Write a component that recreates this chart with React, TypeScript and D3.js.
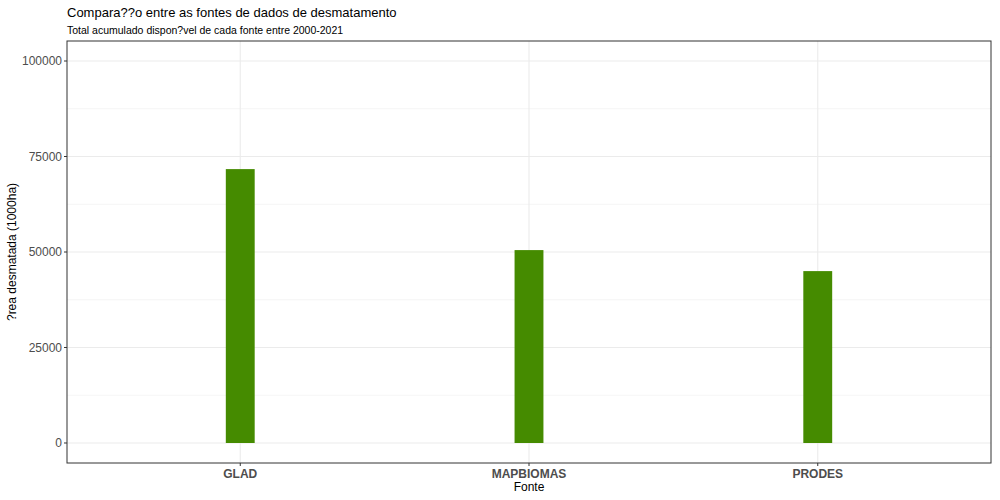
import React from "react";
import * as d3 from "d3";

const categories = ["GLAD", "MAPBIOMAS", "PRODES"];
const values = [71700, 50500, 45000];
const yTicks = [0, 25000, 50000, 75000, 100000];
const yMinor = [12500, 37500, 62500, 87500];

export default function App() {
  const W = 1000, H = 500;
  const L = 67, R = 991, T = 41, B = 463;
  const y = d3.scaleLinear().domain([-5236, 105236]).range([B, T]);
  const x = d3.scaleLinear().domain([0.4, 3.6]).range([L, R]);
  const bw = x(1.1) - x(1);
  const font = "Arial, 'Liberation Sans', sans-serif";
  return (
    <svg width={W} height={H} style={{ position: "absolute", left: 0, top: 0 }} fontFamily={font}>
      <rect width={W} height={H} fill="#fff" />
      {yMinor.map(v => <line key={"m" + v} x1={L} x2={R} y1={y(v)} y2={y(v)} stroke="#f2f2f2" strokeWidth={0.8} />)}
      {yTicks.map(v => <line key={"g" + v} x1={L} x2={R} y1={y(v)} y2={y(v)} stroke="#ebebeb" strokeWidth={1.1} />)}
      {categories.map((c, i) => <line key={"v" + c} x1={x(i + 1)} x2={x(i + 1)} y1={T} y2={B} stroke="#ebebeb" strokeWidth={1.1} />)}
      {categories.map((c, i) => (
        <rect key={c} x={x(i + 1) - bw / 2} width={bw} y={y(values[i])} height={y(0) - y(values[i])} fill="#458B00" />
      ))}
      <rect x={L} y={T} width={R - L} height={B - T} fill="none" stroke="#333" strokeWidth={1} />
      {yTicks.map(v => (
        <g key={"t" + v}>
          <line x1={L - 3} x2={L} y1={y(v)} y2={y(v)} stroke="#333" />
          <text x={L - 5} y={y(v)} dy="0.35em" textAnchor="end" fontSize={12} fill="#4d4d4d">{v}</text>
        </g>
      ))}
      {categories.map((c, i) => (
        <g key={"x" + c}>
          <line x1={x(i + 1)} x2={x(i + 1)} y1={B} y2={B + 3} stroke="#333" />
          <text x={x(i + 1)} y={B + 15} textAnchor="middle" fontSize={12} fontWeight="bold" fill="#4d4d4d">{c}</text>
        </g>
      ))}
      <text x={(L + R) / 2} y={491} textAnchor="middle" fontSize={12} fill="#000">Fonte</text>
      <text transform={`translate(16,${(T + B) / 2}) rotate(-90)`} textAnchor="middle" fontSize={12} fill="#000">?rea desmatada (1000ha)</text>
      <text x={L} y={17} fontSize={13} fill="#000">Compara??o entre as fontes de dados de desmatamento</text>
      <text x={L} y={34} fontSize={10.5} fill="#000">Total acumulado dispon?vel de cada fonte entre 2000-2021</text>
    </svg>
  );
}
